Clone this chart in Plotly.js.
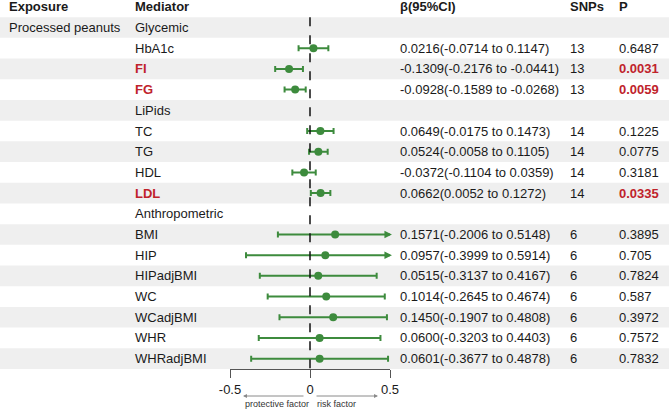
<!DOCTYPE html>
<html>
<head>
<meta charset="utf-8">
<script src="https://cdn.plot.ly/plotly-3.0.1.min.js"></script>
<style>
  body { margin: 0; background: #ffffff; }
  #chart { width: 669px; height: 409px; }
</style>
</head>
<body>
<div id="chart"></div>
<script>

// rows of the table (group headers have no estimate)
const exposure = ['Processed peanuts'];
const mediators = ['Glycemic', 'HbA1c', 'FI', 'FG', 'LiPids', 'TC', 'TG', 'HDL', 'LDL',
	'Anthropometric', 'BMI', 'HIP', 'HIPadjBMI', 'WC', 'WCadjBMI', 'WHR', 'WHRadjBMI'];
const beta  = [null, 0.0216, -0.1309, -0.0928, null, 0.0649, 0.0524, -0.0372, 0.0662,
	null, 0.1571, 0.0957, 0.0515, 0.1014, 0.1450, 0.0600, 0.0601];
const lower = [null, -0.0714, -0.2176, -0.1589, null, -0.0175, -0.0058, -0.1104, 0.0052,
	null, -0.2006, -0.3999, -0.3137, -0.2645, -0.1907, -0.3203, -0.3677];
const upper = [null, 0.1147, -0.0441, -0.0268, null, 0.1473, 0.1105, 0.0359, 0.1272,
	null, 0.5148, 0.5914, 0.4167, 0.4674, 0.4808, 0.4403, 0.4878];
const snps  = ['', '13', '13', '13', '', '14', '14', '14', '14',
	'', '6', '6', '6', '6', '6', '6', '6'];
const pvals = ['', '0.6487', '0.0031', '0.0059', '', '0.1225', '0.0775', '0.3181', '0.0335',
	'', '0.3895', '0.705', '0.7824', '0.587', '0.3972', '0.7572', '0.7832'];
const xTicks = [-0.5, 0, 0.5];
const headers = ['Exposure', 'Mediator', 'β(95%CI)', 'SNPs', 'P'];

const XMAX = 0.5;
const GREEN = '#3d8b3d';
const RED = '#c0232b';
const FONT = 'Liberation Sans, Arial, sans-serif';
const W = 669, H = 409;

// column left edges in px
const colX = [7, 133, 398, 568, 617];

function px(x) { return x / W; }

const rows = mediators.map((m, i) => i + 1);

// points with CI, clipped at the axis end
var X = [], Y = [], ePlus = [], eMinus = [];
for (var i = 0; i < mediators.length; i++) {
	if (beta[i] === null) continue;
	X.push(beta[i]);
	Y.push(rows[i]);
	ePlus.push(upper[i] > XMAX ? 0 : upper[i] - beta[i]);
	eMinus.push(beta[i] - lower[i]);
}

const traces = [{
	x: X,
	y: Y,
	type: 'scatter',
	mode: 'markers',
	cliponaxis: false,
	hoverinfo: 'skip',
	marker: {size: 8, color: GREEN},
	error_x: {
		type: 'data', symmetric: false,
		array: ePlus, arrayminus: eMinus,
		color: GREEN, thickness: 2, width: 3
	}
}];

const shapes = [];
// grey stripes on every other row
for (var i = 0; i < rows.length; i += 2) {
	shapes.push({
		type: 'rect', xref: 'paper', yref: 'y', layer: 'below',
		x0: -0.01, x1: 1.01, y0: rows[i] - 0.5, y1: rows[i] + 0.5,
		fillcolor: '#efefef', line: {width: 0}
	});
}
// null line
shapes.push({
	type: 'line', xref: 'x', yref: 'y', layer: 'above',
	x0: 0, x1: 0, y0: 0.5, y1: rows.length + 0.5,
	line: {color: '#111111', width: 1.5, dash: 'dash'}
});

const annotations = [];

function txt(x, y, text, opts) {
	opts = opts || {};
	annotations.push({
		xref: 'paper', yref: 'y', x: px(x), y: y,
		xanchor: 'left', yanchor: 'middle', showarrow: false,
		text: opts.bold ? '<b>' + text + '</b>' : text,
		font: {family: FONT, size: opts.size || 13, color: opts.color || '#1a1a1a'}
	});
}

// header
headers.forEach((h, k) => txt(colX[k], 0, h, {bold: true}));

txt(colX[0], rows[0], exposure[0]);

for (var i = 0; i < mediators.length; i++) {
	var sig = pvals[i] !== '' && parseFloat(pvals[i]) < 0.05;
	txt(colX[1], rows[i], mediators[i], sig ? {bold: true, color: RED} : {});
	if (beta[i] === null) continue;
	var ci = beta[i].toFixed(4) + '(' + lower[i].toFixed(4) + ' to ' + upper[i].toFixed(4) + ')';
	txt(colX[2], rows[i], ci);
	txt(colX[3], rows[i], snps[i]);
	txt(colX[4], rows[i], pvals[i], sig ? {bold: true, color: RED} : {});

	// arrow for CIs running past the axis
	if (upper[i] > XMAX) {
		annotations.push({
			xref: 'x', yref: 'y', axref: 'x', ayref: 'y',
			x: XMAX + 0.012, y: rows[i], ax: beta[i], ay: rows[i],
			text: '', showarrow: true, arrowhead: 2, arrowsize: 0.75,
			arrowwidth: 2, arrowcolor: GREEN, standoff: 0, startstandoff: 0
		});
	}
}

// direction hints under the axis
const hintY = (H - 396) / H;
annotations.push({
	xref: 'paper', yref: 'paper', x: px(243), y: hintY, ax: 62, ay: 0,
	text: '', showarrow: true, arrowhead: 2, arrowsize: 0.8, arrowwidth: 1, arrowcolor: '#8a8a8a'
});
annotations.push({
	xref: 'paper', yref: 'paper', x: px(378), y: hintY, ax: -63, ay: 0,
	text: '', showarrow: true, arrowhead: 2, arrowsize: 0.8, arrowwidth: 1, arrowcolor: '#8a8a8a'
});
annotations.push({
	xref: 'paper', yref: 'paper', x: px(243), y: (H - 404) / H,
	xanchor: 'left', yanchor: 'middle', showarrow: false,
	text: 'protective factor', font: {family: FONT, size: 9, color: '#333333'}
});
annotations.push({
	xref: 'paper', yref: 'paper', x: px(315), y: (H - 404) / H,
	xanchor: 'left', yanchor: 'middle', showarrow: false,
	text: 'risk factor', font: {family: FONT, size: 9, color: '#333333'}
});

const layout = {
	width: W, height: H,
	margin: {l: 0, r: 0, t: 0, b: 0},
	paper_bgcolor: '#ffffff',
	plot_bgcolor: 'rgba(0,0,0,0)',
	showlegend: false,
	font: {family: FONT, size: 13, color: '#1a1a1a'},
	xaxis: {
		domain: [px(230), px(390)],
		range: [-XMAX, XMAX],
		tickvals: xTicks,
		ticktext: xTicks.map(String),
		ticks: 'outside', ticklen: 8, tickwidth: 1, tickcolor: '#555555',
		showline: true, linecolor: '#555555', linewidth: 1,
		showgrid: false, zeroline: false,
		tickfont: {family: FONT, size: 13, color: '#1a1a1a'},
		fixedrange: true
	},
	yaxis: {
		domain: [(H - 369) / H, 1],
		range: [rows.length + 0.5, -0.33],
		visible: false,
		fixedrange: true
	},
	shapes: shapes,
	annotations: annotations
};

Plotly.newPlot('chart', traces, layout, {displayModeBar: false, staticPlot: true});

</script>
</body>
</html>
